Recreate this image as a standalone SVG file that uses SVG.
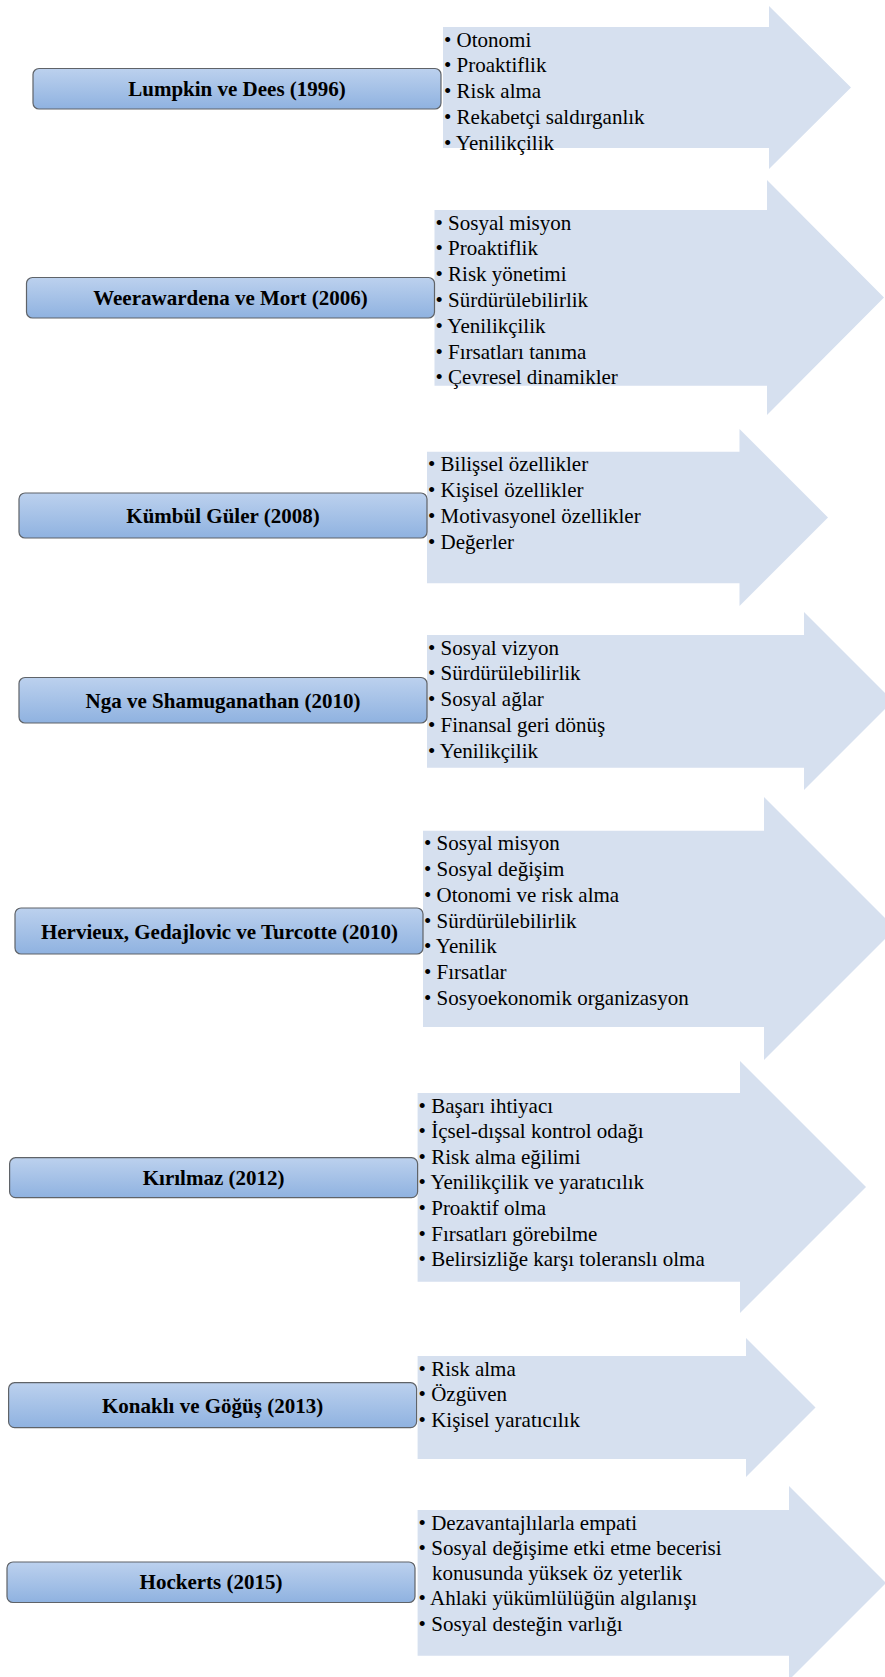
<svg xmlns="http://www.w3.org/2000/svg" width="885" height="1677" viewBox="0 0 885 1677">
  <defs>
    <linearGradient id="boxFill" x1="0" y1="0" x2="0" y2="1">
      <stop offset="0" stop-color="#bcd1ee"/>
      <stop offset="1" stop-color="#8fb2e0"/>
    </linearGradient>
    <style>
      .box { fill: url(#boxFill); stroke: #5f6368; stroke-width: 1.2; }
      .arrow { fill: #d6e0ef; }
      .label { font-size: 21px; font-weight: bold; fill: #000; text-anchor: middle; }
      .item { font-size: 21px; fill: #000; }
    </style>
  </defs>
  <rect width="885" height="1677" fill="#ffffff"/>

  <g font-family="'Liberation Serif', 'DejaVu Serif', serif">
  <!-- Arrow-shaped panels holding the bullet lists -->
  <g id="list-lumpkin-dees">
    <path class="arrow" d="M443,27 H769 V6 L851,87.5 L769,169 V148 H443 Z"/>
    <text class="item" x="444" y="46.5">• Otonomi</text>
    <text class="item" x="444" y="72.3">• Proaktiflik</text>
    <text class="item" x="444" y="98.1">• Risk alma</text>
    <text class="item" x="444" y="123.9">• Rekabetçi saldırganlık</text>
    <text class="item" x="444" y="149.7">• Yenilikçilik</text>
  </g>
  <g id="list-weerawardena-mort">
    <path class="arrow" d="M434.5,210 H767 V180 L884,297.5 L767,415 V385.7 H434.5 Z"/>
    <text class="item" x="435.5" y="229.5">• Sosyal misyon</text>
    <text class="item" x="435.5" y="255.3">• Proaktiflik</text>
    <text class="item" x="435.5" y="281.1">• Risk yönetimi</text>
    <text class="item" x="435.5" y="306.9">• Sürdürülebilirlik</text>
    <text class="item" x="435.5" y="332.7">• Yenilikçilik</text>
    <text class="item" x="435.5" y="358.5">• Fırsatları tanıma</text>
    <text class="item" x="435.5" y="384.3">• Çevresel dinamikler</text>
  </g>
  <g id="list-kumbul-guler">
    <path class="arrow" d="M427,451.7 H739.5 V429 L828,517.5 L739.5,606 V583.3 H427 Z"/>
    <text class="item" x="428" y="471.2">• Bilişsel özellikler</text>
    <text class="item" x="428" y="497.1">• Kişisel özellikler</text>
    <text class="item" x="428" y="523">• Motivasyonel özellikler</text>
    <text class="item" x="428" y="548.9">• Değerler</text>
  </g>
  <g id="list-nga-shamuganathan">
    <path class="arrow" d="M427,635 H804 V612 L893,701 L804,790 V767.7 H427 Z"/>
    <text class="item" x="428" y="654.5">• Sosyal vizyon</text>
    <text class="item" x="428" y="680.3">• Sürdürülebilirlik</text>
    <text class="item" x="428" y="706.1">• Sosyal ağlar</text>
    <text class="item" x="428" y="731.9">• Finansal geri dönüş</text>
    <text class="item" x="428" y="757.7">• Yenilikçilik</text>
  </g>
  <g id="list-hervieux-gedajlovic-turcotte">
    <path class="arrow" d="M423,830.7 H764 V797 L895.5,928.5 L764,1060 V1027 H423 Z"/>
    <text class="item" x="424" y="850.2">• Sosyal misyon</text>
    <text class="item" x="424" y="876">• Sosyal değişim</text>
    <text class="item" x="424" y="901.8">• Otonomi ve risk alma</text>
    <text class="item" x="424" y="927.6">• Sürdürülebilirlik</text>
    <text class="item" x="424" y="953.4">• Yenilik</text>
    <text class="item" x="424" y="979.2">• Fırsatlar</text>
    <text class="item" x="424" y="1005">• Sosyoekonomik organizasyon</text>
  </g>
  <g id="list-kirilmaz">
    <path class="arrow" d="M417.6,1093 H740 V1061 L866,1187 L740,1313 V1281.7 H417.6 Z"/>
    <text class="item" x="418.6" y="1112.5">• Başarı ihtiyacı</text>
    <text class="item" x="418.6" y="1138.1">• İçsel-dışsal kontrol odağı</text>
    <text class="item" x="418.6" y="1163.7">• Risk alma eğilimi</text>
    <text class="item" x="418.6" y="1189.3">• Yenilikçilik ve yaratıcılık</text>
    <text class="item" x="418.6" y="1214.9">• Proaktif olma</text>
    <text class="item" x="418.6" y="1240.5">• Fırsatları görebilme</text>
    <text class="item" x="418.6" y="1266.1">• Belirsizliğe karşı toleranslı olma</text>
  </g>
  <g id="list-konakli-gogus">
    <path class="arrow" d="M417.6,1356 H746 V1338 L815.5,1407.5 L746,1477 V1459 H417.6 Z"/>
    <text class="item" x="418.6" y="1375.5">• Risk alma</text>
    <text class="item" x="418.6" y="1401.3">• Özgüven</text>
    <text class="item" x="418.6" y="1427.1">• Kişisel yaratıcılık</text>
  </g>
  <g id="list-hockerts">
    <path class="arrow" d="M417.6,1510 H789 V1486 L886,1583 L789,1680 V1655.7 H417.6 Z"/>
    <text class="item" x="418.6" y="1529.5">• Dezavantajlılarla empati</text>
    <text class="item" x="418.6" y="1554.8">• Sosyal değişime etki etme becerisi</text>
    <text class="item" x="432" y="1580.1">konusunda yüksek öz yeterlik</text>
    <text class="item" x="418.6" y="1605.4">• Ahlaki yükümlülüğün algılanışı</text>
    <text class="item" x="418.6" y="1630.7">• Sosyal desteğin varlığı</text>
  </g>

  <!-- Author boxes -->
  <g id="node-lumpkin-dees">
    <rect class="box" x="33" y="68.5" width="408" height="40.5" rx="6"/>
    <text class="label" x="237" y="96">Lumpkin ve Dees (1996)</text>
  </g>
  <g id="node-weerawardena-mort">
    <rect class="box" x="26.5" y="277.5" width="408" height="40.5" rx="6"/>
    <text class="label" x="230.5" y="305">Weerawardena ve Mort (2006)</text>
  </g>
  <g id="node-kumbul-guler">
    <rect class="box" x="19" y="493" width="408" height="45" rx="6"/>
    <text class="label" x="223" y="523">Kümbül Güler (2008)</text>
  </g>
  <g id="node-nga-shamuganathan">
    <rect class="box" x="19" y="677.5" width="408" height="45.5" rx="6"/>
    <text class="label" x="223" y="708">Nga ve Shamuganathan (2010)</text>
  </g>
  <g id="node-hervieux-gedajlovic-turcotte">
    <rect class="box" x="15" y="908" width="408" height="46" rx="6"/>
    <text class="label" x="219.5" y="938.5">Hervieux, Gedajlovic ve Turcotte (2010)</text>
  </g>
  <g id="node-kirilmaz">
    <rect class="box" x="9.6" y="1157.7" width="408" height="40" rx="6"/>
    <text class="label" x="213.6" y="1185">Kırılmaz (2012)</text>
  </g>
  <g id="node-konakli-gogus">
    <rect class="box" x="8.6" y="1382.7" width="408" height="45" rx="6"/>
    <text class="label" x="212.6" y="1413">Konaklı ve Göğüş (2013)</text>
  </g>
  <g id="node-hockerts">
    <rect class="box" x="7" y="1562" width="408" height="40.5" rx="6"/>
    <text class="label" x="211" y="1589">Hockerts (2015)</text>
  </g>
  </g>

  <!-- No separate connectors: each arrow panel is part of its row -->
  <g id="connectors"/>
</svg>
